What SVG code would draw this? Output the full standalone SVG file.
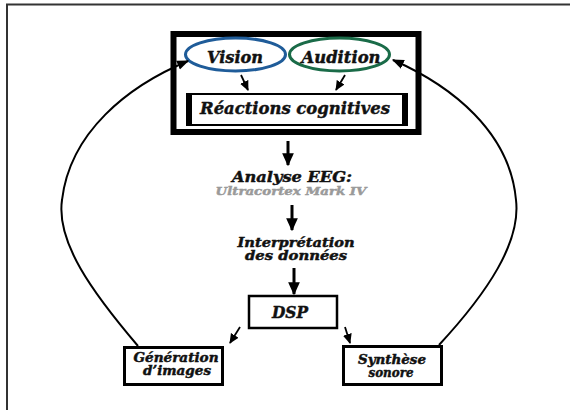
<svg xmlns="http://www.w3.org/2000/svg" width="570" height="410" viewBox="0 0 570 410">
<defs>
<marker id="ah" viewBox="0 0 10 10" refX="9" refY="5" markerWidth="10" markerHeight="10" orient="auto" markerUnits="userSpaceOnUse">
<path d="M0,0.5 L10,5 L0,9.5 z" fill="#000"/>
</marker>
<marker id="ahs" viewBox="0 0 10 10" refX="9" refY="5" markerWidth="12" markerHeight="12" orient="auto" markerUnits="userSpaceOnUse">
<path d="M0,1 L10,5 L0,9 z" fill="#000"/>
</marker>
<marker id="ahl" viewBox="0 0 10 10" refX="9" refY="5" markerWidth="13" markerHeight="13" orient="auto" markerUnits="userSpaceOnUse">
<path d="M0,0.5 L10,5 L0,9.5 z" fill="#000"/>
</marker>
</defs>
<style>
text{font-family:"DejaVu Serif","Liberation Serif",serif;font-weight:bold;font-style:italic;fill:#111;stroke:#111;stroke-width:0.45;text-anchor:middle;}
.box{fill:#fff;stroke:#000;}
.c{fill:none;stroke:#000;stroke-width:2;}
.a{fill:none;stroke:#000;}
</style>
<rect width="570" height="410" fill="#fff"/>
<path d="M7,410 V4.5 H570" fill="none" stroke="#333" stroke-width="2"/>

<g id="perception">
<rect x="173.5" y="34" width="245" height="98" fill="none" stroke="#000" stroke-width="6"/>
</g>
<g id="vision">
<ellipse cx="235.5" cy="54.5" rx="50" ry="16.5" fill="none" stroke="#1f5c99" stroke-width="3"/>
<text x="235" y="63" font-size="16" textLength="56" lengthAdjust="spacingAndGlyphs">Vision</text>
</g>
<g id="audition">
<ellipse cx="339.5" cy="54.5" rx="50" ry="16.5" fill="none" stroke="#1a6b48" stroke-width="3"/>
<text x="341" y="63" font-size="16" textLength="79" lengthAdjust="spacingAndGlyphs">Audition</text>
</g>
<g id="reactions">
<rect class="box" x="187" y="94" width="220" height="31" stroke-width="2"/>
<rect x="186" y="93" width="6" height="33" fill="#000"/>
<rect x="402" y="93" width="6" height="33" fill="#000"/>
<text x="295" y="114" font-size="17" textLength="190" lengthAdjust="spacingAndGlyphs">Réactions cognitives</text>
</g>
<g id="eeg">
<text x="292" y="182" font-size="15" textLength="120" lengthAdjust="spacingAndGlyphs">Analyse EEG:</text>
<text x="291" y="195" font-size="11" style="fill:#9a9a9a;stroke:#9a9a9a" textLength="151" lengthAdjust="spacingAndGlyphs">Ultracortex Mark IV</text>
</g>
<g id="interpretation">
<text x="296" y="247" font-size="12.5" textLength="117" lengthAdjust="spacingAndGlyphs">Interprétation</text>
<text x="296" y="260" font-size="12" textLength="102" lengthAdjust="spacingAndGlyphs">des données</text>
</g>
<g id="dsp">
<rect class="box" x="249" y="296" width="88" height="32" stroke-width="2.5"/>
<text x="290" y="318" font-size="16" textLength="36" lengthAdjust="spacingAndGlyphs">DSP</text>
</g>
<g id="generation">
<rect class="box" x="124.5" y="347.5" width="98" height="37" stroke-width="3"/>
<text x="176" y="362" font-size="12" textLength="85" lengthAdjust="spacingAndGlyphs">Génération</text>
<text x="177" y="375" font-size="12" textLength="68" lengthAdjust="spacingAndGlyphs">d’images</text>
</g>
<g id="synthese">
<rect class="box" x="343.5" y="346.5" width="98" height="38" stroke-width="3"/>
<text x="392" y="364" font-size="12" textLength="68" lengthAdjust="spacingAndGlyphs">Synthèse</text>
<text x="391" y="377" font-size="12" textLength="45" lengthAdjust="spacingAndGlyphs">sonore</text>
</g>

<g id="connectors">
<path class="c" d="M138,346 C92,292 56,242 62,200 C70,132 128,86 188,61" marker-end="url(#ahs)"/>
<path class="c" d="M439,345 C488,292 521,242 516,200 C510,132 452,86 393,60" marker-end="url(#ahs)"/>
<line class="a" x1="241" y1="75" x2="248" y2="90" marker-end="url(#ah)" stroke-width="1.8"/>
<line class="a" x1="345" y1="75" x2="336" y2="90" marker-end="url(#ah)" stroke-width="1.8"/>
<line class="a" x1="288" y1="141" x2="288" y2="165" marker-end="url(#ahl)" stroke-width="3"/>
<line class="a" x1="292" y1="205" x2="292" y2="230" marker-end="url(#ahl)" stroke-width="3"/>
<line class="a" x1="294" y1="268" x2="294" y2="294" marker-end="url(#ahl)" stroke-width="3"/>
<line class="a" x1="240" y1="327" x2="230" y2="343" marker-end="url(#ah)" stroke-width="1.8"/>
<line class="a" x1="345" y1="327" x2="350" y2="343" marker-end="url(#ah)" stroke-width="1.8"/>
</g>
</svg>
